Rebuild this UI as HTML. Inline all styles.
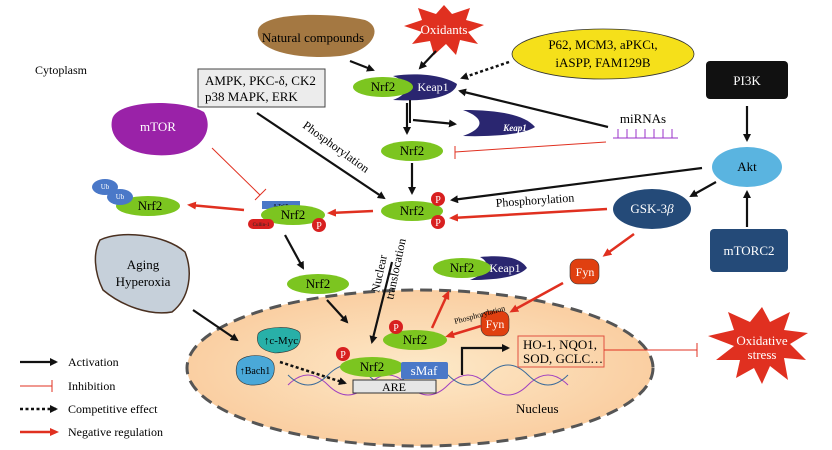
<!DOCTYPE html>
<html><head><meta charset="utf-8"><style>
html,body{margin:0;padding:0;background:#fff;}
svg{display:block;font-family:"Liberation Serif",serif;}
</style></head><body>
<svg width="832" height="450" viewBox="0 0 832 450" xmlns="http://www.w3.org/2000/svg">
<defs>
<marker id="ab" markerWidth="8" markerHeight="8" refX="6" refY="4" orient="auto" markerUnits="userSpaceOnUse"><path d="M0,0 L8,4 L0,8 z" fill="#111"/></marker>
<marker id="ar" markerWidth="9" markerHeight="8" refX="6" refY="4" orient="auto" markerUnits="userSpaceOnUse"><path d="M0,0 L9,4 L0,8 z" fill="#e03020"/></marker>
<radialGradient id="nuc" cx="0.5" cy="0.5" r="0.6"><stop offset="0" stop-color="#fde9c8"/><stop offset="1" stop-color="#f9c99a"/></radialGradient>
</defs>

<text x="35" y="74" font-size="12">Cytoplasm</text>

<ellipse cx="420" cy="368" rx="233" ry="78" fill="url(#nuc)" stroke="#555" stroke-width="3" stroke-dasharray="12,7"/>
<text x="516" y="413" font-size="13">Nucleus</text>

<path d="M258,30 C262,12 330,12 365,20 C385,28 372,52 340,56 C300,60 254,52 258,30z" fill="#a47842"/>
<text x="313" y="42" font-size="13" text-anchor="middle">Natural compounds</text>

<polygon fill="#e03020" points="444,5 452,14 470,8 466,20 484,25 468,32 478,44 460,40 456,55 446,44 434,55 430,41 412,44 422,32 404,26 422,20 418,8 436,14"/>
<text x="444" y="34" font-size="13" fill="#fff" text-anchor="middle">Oxidants</text>

<ellipse cx="603" cy="54" rx="91" ry="25" fill="#f5e01a" stroke="#333" stroke-width="0.8"/>
<text x="603" y="49" font-size="13" text-anchor="middle">P62, MCM3, aPKCι,</text>
<text x="603" y="67" font-size="13" text-anchor="middle">iASPP, FAM129B</text>

<rect x="198" y="69" width="127" height="38" fill="#ececec" stroke="#444"/>
<text x="205" y="85" font-size="13">AMPK, PKC-δ, CK2</text>
<text x="205" y="101" font-size="13">p38 MAPK, ERK</text>

<rect x="706" y="61" width="82" height="38" rx="4" fill="#111"/>
<text x="747" y="85" font-size="13" fill="#fff" text-anchor="middle">PI3K</text>
<ellipse cx="747" cy="167" rx="35" ry="20" fill="#5ab4e0"/>
<text x="747" y="171" font-size="13" text-anchor="middle">Akt</text>
<ellipse cx="652" cy="209" rx="39" ry="20" fill="#244a78"/>
<text x="652" y="213" font-size="13" fill="#fff" text-anchor="middle">GSK-3<tspan font-style="italic">β</tspan></text>
<rect x="710" y="229" width="78" height="43" rx="4" fill="#244a78"/>
<text x="749" y="255" font-size="13" fill="#fff" text-anchor="middle">mTORC2</text>

<path d="M112,120 C115,100 180,98 204,112 C214,128 204,152 170,155 C130,158 108,140 112,120z" fill="#9a22a8"/>
<text x="158" y="131" font-size="13" fill="#fff" text-anchor="middle">mTOR</text>

<path d="M100,240 C120,230 165,234 185,252 C193,272 190,298 172,312 C150,316 122,306 103,290 C94,272 93,252 100,240z" fill="#c6d0da" stroke="#4a3020" stroke-width="1.5"/>
<text x="143" y="269" font-size="13" text-anchor="middle">Aging</text>
<text x="143" y="286" font-size="13" text-anchor="middle">Hyperoxia</text>

<path d="M393,76 C420,72 445,76 457,84 C455,96 430,102 393,100 C410,94 410,82 393,76z" fill="#2a2670"/>
<ellipse cx="383" cy="87" rx="30" ry="10" fill="#7cc520"/>
<text x="383" y="91" font-size="13" text-anchor="middle">Nrf2</text>
<text x="433" y="91" font-size="12" fill="#fff" text-anchor="middle">Keap1</text>

<path d="M463,110 C500,110 525,115 535,127 C525,134 495,137 463,136 C485,128 485,118 463,110z" fill="#2a2670"/>
<text x="515" y="131" font-size="9" font-style="italic" font-weight="bold" fill="#fff" text-anchor="middle">Keap1</text>

<text x="643" y="123" font-size="13" text-anchor="middle">miRNAs</text>
<line x1="613" y1="138" x2="678" y2="138" stroke="#9a30c8"/>
<g stroke="#9a30c8"><line x1="618" y1="129" x2="618" y2="138"/><line x1="627" y1="129" x2="627" y2="138"/><line x1="636" y1="129" x2="636" y2="138"/><line x1="645" y1="129" x2="645" y2="138"/><line x1="654" y1="129" x2="654" y2="138"/><line x1="663" y1="129" x2="663" y2="138"/><line x1="672" y1="129" x2="672" y2="138"/></g>

<ellipse cx="412" cy="151" rx="31" ry="10" fill="#7cc520"/>
<text x="412" y="155" font-size="13" text-anchor="middle">Nrf2</text>

<ellipse cx="412" cy="211" rx="31" ry="10" fill="#7cc520"/>
<text x="412" y="215" font-size="13" text-anchor="middle">Nrf2</text>
<circle cx="438" cy="199" r="7" fill="#d82020"/><text x="438" y="203" font-size="10" fill="#fff" text-anchor="middle">P</text>
<circle cx="438" cy="222" r="7" fill="#d82020"/><text x="438" y="226" font-size="10" fill="#fff" text-anchor="middle">P</text>

<rect x="262" y="201" width="38" height="8" fill="#4a78c8"/>
<text x="281" y="207.5" font-size="5" text-anchor="middle">β-TrCP</text>
<ellipse cx="293" cy="215" rx="32" ry="10" fill="#7cc520"/>
<text x="293" y="219" font-size="13" text-anchor="middle">Nrf2</text>
<rect x="248" y="219" width="26" height="10" rx="5" fill="#d82020"/>
<text x="261" y="226" font-size="5" fill="#222" text-anchor="middle">Cullin-1</text>
<circle cx="319" cy="225" r="7" fill="#d82020"/><text x="319" y="229" font-size="10" fill="#fff" text-anchor="middle">P</text>

<ellipse cx="148" cy="206" rx="32" ry="10" fill="#7cc520"/>
<text x="150" y="210" font-size="13" text-anchor="middle">Nrf2</text>
<ellipse cx="105" cy="187" rx="13" ry="8" fill="#4a78c8"/>
<text x="105" y="189" font-size="7" fill="#fff" text-anchor="middle">Ub</text>
<ellipse cx="120" cy="197" rx="13" ry="8" fill="#4a78c8"/>
<text x="120" y="199" font-size="7" fill="#fff" text-anchor="middle">Ub</text>

<ellipse cx="318" cy="284" rx="31" ry="10" fill="#7cc520"/>
<text x="318" y="288" font-size="13" text-anchor="middle">Nrf2</text>

<path d="M480,257 C510,254 522,260 527,268 C520,276 500,280 470,280 C490,272 490,262 480,257z" fill="#2a2670"/>
<ellipse cx="462" cy="268" rx="29" ry="10" fill="#7cc520"/>
<text x="462" y="272" font-size="13" text-anchor="middle">Nrf2</text>
<text x="505" y="272" font-size="12" fill="#fff" text-anchor="middle">Keap1</text>

<rect x="570" y="259" width="29" height="25" rx="8" fill="#e04010" stroke="#333" stroke-width="0.6"/>
<text x="585" y="276" font-size="12" fill="#fff" text-anchor="middle">Fyn</text>
<rect x="481" y="311" width="28" height="25" rx="8" fill="#e04010" stroke="#333" stroke-width="0.6"/>
<text x="495" y="328" font-size="12" fill="#fff" text-anchor="middle">Fyn</text>
<text x="455" y="324" font-size="8" transform="rotate(-15 455 324)">Phosphorylation</text>

<ellipse cx="415" cy="340" rx="32" ry="10" fill="#7cc520"/>
<text x="415" y="344" font-size="13" text-anchor="middle">Nrf2</text>
<circle cx="396" cy="327" r="7" fill="#d82020"/><text x="396" y="331" font-size="10" fill="#fff" text-anchor="middle">P</text>

<path d="M288,385 Q308,365 328,385 T368,385 T408,385 T448,385 T488,385 T528,385 T568,385" fill="none" stroke="#a040c0"/>
<path d="M288,375 Q308,395 328,375 T368,375 T408,375 T448,375 T488,375 T528,375 T568,375" fill="none" stroke="#3a6a9a"/>

<ellipse cx="372" cy="367" rx="32" ry="10" fill="#7cc520"/>
<text x="372" y="371" font-size="13" text-anchor="middle">Nrf2</text>
<circle cx="343" cy="354" r="7" fill="#d82020"/><text x="343" y="358" font-size="10" fill="#fff" text-anchor="middle">P</text>
<rect x="401" y="362" width="47" height="17" rx="2" fill="#4a78c8"/>
<text x="424" y="375" font-size="13" fill="#fff" text-anchor="middle">sMaf</text>
<rect x="353" y="380" width="83" height="13" fill="#e6e6e6" stroke="#333"/>
<text x="394" y="391" font-size="12" text-anchor="middle">ARE</text>

<path d="M258,334 C262,326 295,325 300,333 C302,345 296,352 275,353 C258,350 256,342 258,334z" fill="#28b0a8" stroke="#333" stroke-width="0.6"/>
<text x="281" y="344" font-size="11" text-anchor="middle">↑c-Myc</text>
<path d="M238,362 C246,352 272,354 274,365 C276,378 268,386 250,385 C236,383 234,372 238,362z" fill="#4aa8d8" stroke="#333" stroke-width="0.6"/>
<text x="255" y="374" font-size="10" text-anchor="middle">↑Bach1</text>

<rect x="518" y="336" width="86" height="31" fill="none" stroke="#e05040"/>
<text x="523" y="349" font-size="13">HO-1, NQO1,</text>
<text x="523" y="363" font-size="13">SOD, GCLC…</text>

<polygon fill="#e03020" points="762,307 770,322 790,312 784,330 808,333 790,344 806,360 784,358 788,380 770,366 762,384 754,368 736,378 740,360 716,360 734,346 708,336 734,330 728,312 750,322"/>
<text x="762" y="345" font-size="13" fill="#fff" text-anchor="middle">Oxidative</text>
<text x="762" y="359" font-size="13" fill="#fff" text-anchor="middle">stress</text>

<g stroke="#111" stroke-width="2.2" fill="none" marker-end="url(#ab)">
<line x1="350" y1="61" x2="373" y2="70"/>
<line x1="436" y1="51" x2="420" y2="68"/>
<line x1="407" y1="103" x2="407" y2="133"/>
<polyline points="413,120 455,124" />
<line x1="412" y1="163" x2="412" y2="193"/>
<line x1="257" y1="113" x2="384" y2="198"/>
<line x1="702" y1="168" x2="452" y2="200"/>
<line x1="747" y1="106" x2="747" y2="140"/>
<line x1="716" y1="182" x2="691" y2="196"/>
<line x1="747" y1="227" x2="747" y2="192"/>
<line x1="608" y1="127" x2="460" y2="91"/>
<line x1="285" y1="235" x2="303" y2="268"/>
<line x1="327" y1="300" x2="347" y2="322"/>
<line x1="392" y1="262" x2="372" y2="342"/>
<line x1="193" y1="310" x2="237" y2="340"/>
<polyline points="462,375 462,348 508,348"/>
</g>
<line x1="410" y1="100" x2="410" y2="123" stroke="#111" stroke-width="2"/>
<line x1="20" y1="362" x2="56" y2="362" stroke="#111" stroke-width="2.2" marker-end="url(#ab)"/>
<text x="68" y="366" font-size="12">Activation</text>

<g stroke="#111" stroke-width="2.5" fill="none" stroke-dasharray="3,2.5" marker-end="url(#ab)">
<line x1="509" y1="62" x2="462" y2="78"/>
<line x1="280" y1="362" x2="345" y2="383"/>
<line x1="20" y1="409" x2="56" y2="409"/>
</g>
<text x="68" y="413" font-size="12">Competitive effect</text>

<g stroke="#e03020" stroke-width="2.5" fill="none" marker-end="url(#ar)">
<line x1="244" y1="210" x2="190" y2="205"/>
<line x1="373" y1="211" x2="330" y2="213"/>
<line x1="607" y1="209" x2="452" y2="218"/>
<line x1="634" y1="234" x2="605" y2="255"/>
<line x1="563" y1="283" x2="512" y2="311"/>
<line x1="481" y1="326" x2="448" y2="336"/>
<line x1="432" y1="328" x2="448" y2="293"/>
<line x1="20" y1="432" x2="56" y2="432"/>
</g>
<text x="68" y="436" font-size="12">Negative regulation</text>

<g stroke="#e03020" stroke-width="1" fill="none">
<line x1="212" y1="148" x2="260" y2="195"/><line x1="255" y1="200" x2="266" y2="189"/>
<line x1="606" y1="142" x2="455" y2="152"/><line x1="455" y1="146" x2="455" y2="159"/>
<line x1="604" y1="350" x2="697" y2="350"/><line x1="697" y1="343" x2="697" y2="357"/>
<line x1="20" y1="386" x2="52" y2="386"/><line x1="52" y1="380" x2="52" y2="392"/>
</g>
<text x="68" y="390" font-size="12">Inhibition</text>

<text x="302" y="127" font-size="12" transform="rotate(36 302 127)">Phosphorylation</text>
<text x="496" y="207" font-size="12" transform="rotate(-4 496 207)">Phosphorylation</text>
<text x="379" y="293" font-size="12" transform="rotate(-78 379 293)">Nuclear</text>
<text x="393" y="300" font-size="12" transform="rotate(-78 393 300)">translocation</text>
</svg>
</body></html>
